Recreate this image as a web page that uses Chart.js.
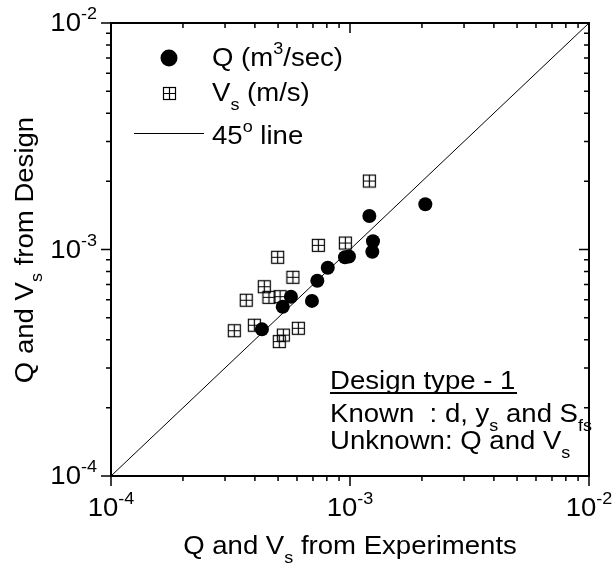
<!DOCTYPE html>
<html>
<head>
<meta charset="utf-8">
<script src="https://cdn.jsdelivr.net/npm/chart.js@4/dist/chart.umd.min.js"></script>
<style>
  body { margin: 0; background: #fff; }
  canvas { display: block; }
</style>
</head>
<body>
<canvas id="myChart" width="614" height="566"></canvas>
<script>
// Q (m3/sec): experiment vs design
var qExp    = [1.205e-3, 1.248e-3, 1.240e-3, 0.953e-3, 0.990e-3, 0.807e-3, 0.730e-3, 0.566e-3, 0.523e-3, 0.693e-3, 0.428e-3, 2.066e-3];
var qDesign = [1.406e-3, 1.087e-3, 0.978e-3, 0.924e-3, 0.931e-3, 0.831e-3, 0.728e-3, 0.619e-3, 0.559e-3, 0.593e-3, 0.444e-3, 1.584e-3];

// Vs (m/s): experiment vs design
var vsExp    = [1.205e-3, 0.737e-3, 0.956e-3, 0.498e-3, 0.577e-3, 0.438e-3, 0.458e-3, 0.510e-3, 0.368e-3, 0.398e-3, 0.328e-3, 0.608e-3, 0.526e-3, 0.506e-3];
var vsDesign = [2.006e-3, 1.043e-3, 1.068e-3, 0.924e-3, 0.754e-3, 0.685e-3, 0.615e-3, 0.619e-3, 0.597e-3, 0.463e-3, 0.438e-3, 0.449e-3, 0.419e-3, 0.392e-3];

var lineX = [1e-4, 1e-2];
var tickExps = [-4, -3, -2];

var FONT = '"Liberation Sans", Arial, sans-serif';
var SX = 1.06;

function pairs(xs, ys) {
  var out = [];
  for (var i = 0; i < xs.length; i++) out.push({x: xs[i], y: ys[i]});
  return out;
}

// square with a cross inside
var sq = document.createElement('canvas');
sq.width = 15; sq.height = 15;
(function () {
  var c = sq.getContext('2d');
  c.strokeStyle = '#000';
  c.lineWidth = 1.2;
  c.strokeRect(1.5, 1.5, 12, 12);
  c.beginPath();
  c.moveTo(7.5, 1.5); c.lineTo(7.5, 13.5);
  c.moveTo(1.5, 7.5); c.lineTo(13.5, 7.5);
  c.stroke();
})();

// segs: [{t, sup, sub}]
function drawRich(ctx, segs, x, y, align) {
  var big = '26px ' + FONT, small = '17px ' + FONT;
  var w = 0;
  segs.forEach(function (s) {
    ctx.font = (s.sup || s.sub) ? small : big;
    s.w = ctx.measureText(s.t).width;
    w += s.w;
  });
  var start = 0;
  if (align === 'center') start = -w / 2;
  if (align === 'right') start = -w;
  ctx.save();
  ctx.translate(x, y);
  ctx.scale(SX, 1);
  ctx.fillStyle = '#000';
  ctx.textBaseline = 'alphabetic';
  ctx.textAlign = 'left';
  var cx = start;
  segs.forEach(function (s) {
    ctx.font = (s.sup || s.sub) ? small : big;
    var dy = s.sup ? -12 : (s.sub ? 9 : 0);
    ctx.fillText(s.t, cx, dy);
    cx += s.w;
  });
  ctx.restore();
}

var framePlugin = {
  id: 'frame',
  afterDraw: function (chart) {
    var ctx = chart.ctx, a = chart.chartArea;
    var xs = chart.scales.x, ys = chart.scales.y;
    ctx.save();
    ctx.strokeStyle = '#000';
    ctx.lineWidth = 2;
    ctx.strokeRect(a.left, a.top, a.right - a.left, a.bottom - a.top);

    ctx.lineWidth = 1.5;
    ctx.beginPath();
    for (var e = -4; e <= -2; e++) {
      for (var m = 1; m <= 9; m++) {
        var v = m * Math.pow(10, e);
        if (v > 1e-2 * 1.0001) break;
        var len = (m === 1) ? 10 : 5;
        var px = xs.getPixelForValue(v);
        var py = ys.getPixelForValue(v);
        // bottom outward, top inward
        ctx.moveTo(px, a.bottom); ctx.lineTo(px, a.bottom + len);
        ctx.moveTo(px, a.top); ctx.lineTo(px, a.top + len);
        // left outward, right inward
        ctx.moveTo(a.left, py); ctx.lineTo(a.left - len, py);
        ctx.moveTo(a.right, py); ctx.lineTo(a.right - len, py);
      }
    }
    ctx.stroke();

    tickExps.forEach(function (e) {
      var v = Math.pow(10, e);
      drawRich(ctx, [{t: '10'}, {t: String(e), sup: true}], xs.getPixelForValue(v), 516, 'center');
      drawRich(ctx, [{t: '10'}, {t: String(e), sup: true}], 97, ys.getPixelForValue(v) + 8, 'right');
    });

    // axis titles
    drawRich(ctx, [{t: 'Q and V'}, {t: 's', sub: true}, {t: ' from Experiments'}], 350, 554, 'center');
    ctx.save();
    ctx.translate(33, 250);
    ctx.rotate(-Math.PI / 2);
    drawRich(ctx, [{t: 'Q and V'}, {t: 's', sub: true}, {t: ' from Design'}], 0, 0, 'center');
    ctx.restore();

    // legend
    ctx.fillStyle = '#000';
    ctx.beginPath();
    ctx.arc(169, 58, 8.5, 0, Math.PI * 2);
    ctx.fill();
    ctx.drawImage(sq, 162, 86);
    ctx.lineWidth = 1;
    ctx.beginPath();
    ctx.moveTo(134, 133.5); ctx.lineTo(204, 133.5);
    ctx.stroke();
    drawRich(ctx, [{t: 'Q (m'}, {t: '3', sup: true}, {t: '/sec)'}], 212, 66, 'left');
    drawRich(ctx, [{t: 'V'}, {t: 's', sub: true}, {t: ' (m/s)'}], 212, 101, 'left');
    drawRich(ctx, [{t: '45'}, {t: 'o', sup: true}, {t: ' line'}], 212, 144, 'left');

    // annotation
    drawRich(ctx, [{t: 'Design type - 1'}], 330, 389, 'left');
    ctx.lineWidth = 2;
    ctx.beginPath();
    ctx.moveTo(330, 393); ctx.lineTo(517, 393);
    ctx.stroke();
    drawRich(ctx, [{t: 'Known  : d, y'}, {t: 's', sub: true}, {t: ' and S'}, {t: 'fs', sub: true}], 330, 422, 'left');
    drawRich(ctx, [{t: 'Unknown: Q and V'}, {t: 's', sub: true}], 330, 449, 'left');
    ctx.restore();
  }
};

var ctx = document.getElementById('myChart').getContext('2d');
var myChart = new Chart(ctx, {
  type: 'scatter',
  data: {
    datasets: [{
      label: '45 line',
      data: pairs(lineX, lineX),
      showLine: true,
      borderColor: '#000',
      borderWidth: 1,
      pointRadius: 0,
      order: 3
    }, {
      label: 'Vs (m/s)',
      data: pairs(vsExp, vsDesign),
      pointStyle: sq,
      order: 2
    }, {
      label: 'Q (m3/sec)',
      data: pairs(qExp, qDesign),
      pointStyle: 'circle',
      pointRadius: 7,
      backgroundColor: '#000',
      borderColor: '#000',
      borderWidth: 0,
      order: 1
    }]
  },
  options: {
    responsive: false,
    animation: false,
    layout: { padding: { left: 111, right: 25, top: 23, bottom: 90 } },
    plugins: { legend: { display: false }, tooltip: { enabled: false } },
    scales: {
      x: { type: 'logarithmic', min: 1e-4, max: 1e-2, display: false },
      y: { type: 'logarithmic', min: 1e-4, max: 1e-2, display: false }
    }
  },
  plugins: [framePlugin]
});
</script>
</body>
</html>
